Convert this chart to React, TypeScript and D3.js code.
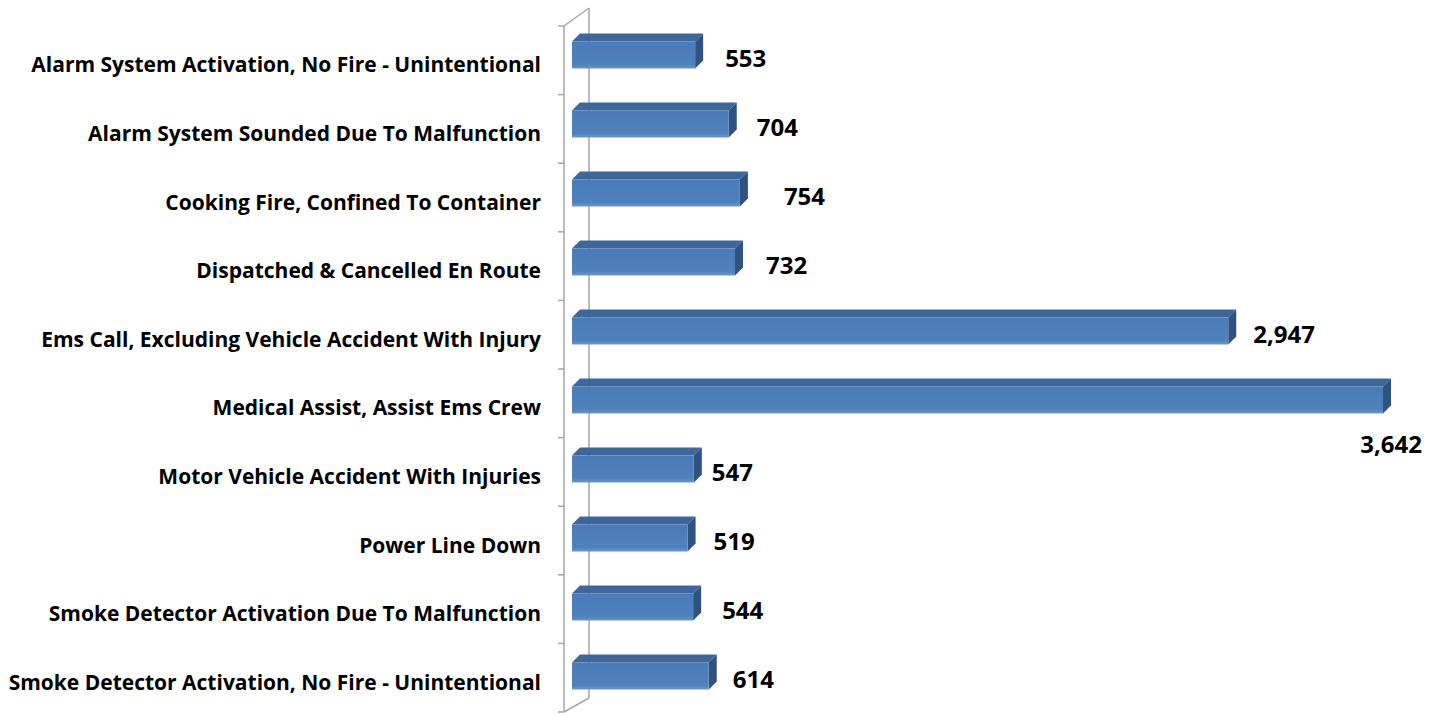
import { useEffect, useRef } from 'react';
import * as d3 from 'd3';

const categories = [
  'Alarm System Activation, No Fire - Unintentional',
  'Alarm System Sounded Due To Malfunction',
  'Cooking Fire, Confined To Container',
  'Dispatched & Cancelled En Route',
  'Ems Call, Excluding Vehicle Accident With Injury',
  'Medical Assist, Assist Ems Crew',
  'Motor Vehicle Accident With Injuries',
  'Power Line Down',
  'Smoke Detector Activation Due To Malfunction',
  'Smoke Detector Activation, No Fire - Unintentional',
];
const values = [553, 704, 754, 732, 2947, 3642, 547, 519, 544, 614];

// hand-placed label gaps (px after the bar's side face), like the original
const labelGap = [22, 20, 36, 23, 17, 0, 10, 18, 21, 16];

function App() {
  const svgRef = useRef<SVGSVGElement | null>(null);
  const width = 1438;
  const height = 715;
  const depth = { dx: 8, dy: -8 };
  const barH = 27;

  useEffect(() => {
    const svg = d3.select(svgRef.current).attr('viewBox', `0,0,${width},${height}`);
    svg.selectAll('*').remove();

    const defs = svg.append('defs');
    const grad = defs
      .append('linearGradient')
      .attr('id', 'front')
      .attr('x1', 0)
      .attr('y1', 0)
      .attr('x2', 0)
      .attr('y2', 1);
    grad.append('stop').attr('offset', '0%').attr('stop-color', '#4a7bb8');
    grad.append('stop').attr('offset', '85%').attr('stop-color', '#4f81bd');
    grad.append('stop').attr('offset', '100%').attr('stop-color', '#6a98cf');

    const xScale = d3.scaleLinear().domain([0, 3642]).range([572, 1383]);
    const yBand = d3.scaleBand().domain(categories).range([26, 712]);
    const yBar = d3.scalePoint().domain(categories).range([55, 676]);

    // wall
    const wall = svg.append('g').attr('stroke', '#a6a6a6').attr('stroke-width', 1.5).attr('fill', 'none');
    const fx = 564;
    const bx = fx + 25;
    wall.append('line').attr('x1', fx).attr('x2', fx).attr('y1', 26).attr('y2', 712);
    wall.append('line').attr('x1', bx).attr('x2', bx).attr('y1', 8).attr('y2', 698);
    wall.append('line').attr('x1', fx).attr('x2', bx).attr('y1', 26).attr('y2', 8);
    wall.append('line').attr('x1', fx).attr('x2', bx).attr('y1', 712).attr('y2', 698);
    const ticks = categories.map((c) => yBand(c) as number).concat([712]);
    wall
      .selectAll('line.tick')
      .data(ticks)
      .enter()
      .append('line')
      .attr('class', 'tick')
      .attr('x1', fx - 6)
      .attr('x2', fx)
      .attr('y1', (d) => d)
      .attr('y2', (d) => d);

    // bars
    const bars = svg
      .append('g')
      .selectAll('g')
      .data(values)
      .enter()
      .append('g');

    const x0 = xScale(0);
    bars
      .append('path')
      .attr('fill', '#3e6699')
      .attr('d', (d, i) => {
        const y = (yBar(categories[i]) as number) - barH / 2;
        const x1 = xScale(d);
        return `M${x0},${y}L${x0 + depth.dx},${y + depth.dy}L${x1 + depth.dx},${y + depth.dy}L${x1},${y}Z`;
      });
    bars
      .append('path')
      .attr('fill', '#30527f')
      .attr('d', (d, i) => {
        const y = (yBar(categories[i]) as number) - barH / 2;
        const x1 = xScale(d);
        return `M${x1},${y}L${x1 + depth.dx},${y + depth.dy}L${x1 + depth.dx},${y + barH + depth.dy}L${x1},${y + barH}Z`;
      });
    bars
      .append('rect')
      .attr('x', x0)
      .attr('y', (d, i) => (yBar(categories[i]) as number) - barH / 2)
      .attr('width', (d) => xScale(d) - x0)
      .attr('height', barH)
      .attr('fill', 'url(#front)');

    // category labels
    svg
      .append('g')
      .selectAll('text')
      .data(categories)
      .enter()
      .append('text')
      .attr('x', 541)
      .attr('y', (d) => (yBand(d) as number) + yBand.bandwidth() / 2 + 4)
      .attr('text-anchor', 'end')
      .attr('dominant-baseline', 'central')
      .attr('font-family', '"Open Sans", sans-serif')
      .attr('font-weight', 'bold')
      .attr('font-size', 21)
      .attr('fill', '#000')
      .text((d) => d);

    // value labels
    const maxV = d3.max(values) as number;
    svg
      .append('g')
      .selectAll('text')
      .data(values)
      .enter()
      .append('text')
      .attr('x', (d, i) => (d === maxV ? xScale(d) + depth.dx + 31 : xScale(d) + depth.dx + labelGap[i]))
      .attr('y', (d, i) => (yBar(categories[i]) as number) + (d === maxV ? 43 : 2))
      .attr('text-anchor', (d) => (d === maxV ? 'end' : 'start'))
      .attr('dominant-baseline', 'central')
      .attr('font-family', '"Open Sans", sans-serif')
      .attr('font-weight', 'bold')
      .attr('font-size', 24)
      .attr('fill', '#000')
      .text((d) => d3.format(',')(d));
  }, []);

  return (
    <svg
      ref={svgRef}
      width={width}
      height={height}
      style={{ position: 'absolute', left: 0, top: 0, background: '#fff' }}
    />
  );
}

export default App;
